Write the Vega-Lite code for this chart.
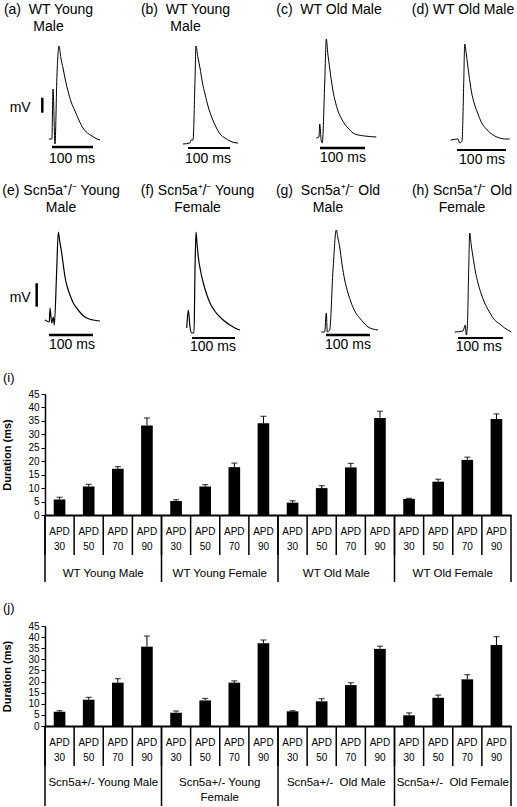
{
"$schema":"https://vega.github.io/schema/vega-lite/v6.json",
"padding":{"top":3,"left":0,"right":0,"bottom":0},"background":"white",
"columns":1,"align":"none","spacing":17,
"config":{"view":{"stroke":null},"font":"Liberation Sans",
 "title":{"font":"Liberation Sans","fontWeight":"normal","color":"black"},
 "text":{"font":"Liberation Sans","color":"black"},
 "axis":{"labelFont":"Liberation Sans","titleFont":"Liberation Sans"}},
"datasets":{
"traces":[
{"p":"a","t":4,"v":1},{"p":"a","t":11,"v":1},{"p":"a","t":13.7,"v":51},{"p":"a","t":18.3,"v":-4},{"p":"a","t":23,"v":66},{"p":"a","t":27.7,"v":94},{"p":"a","t":32,"v":82},{"p":"a","t":37,"v":72},{"p":"a","t":43,"v":59},{"p":"a","t":48.7,"v":49},{"p":"a","t":56,"v":38},{"p":"a","t":65,"v":29},{"p":"a","t":74,"v":20},{"p":"a","t":83.7,"v":12},{"p":"a","t":94,"v":7},{"p":"a","t":104.7,"v":4},{"p":"a","t":114,"v":1.5},{"p":"a","t":123.3,"v":0},
{"p":"b","t":9,"v":-4},{"p":"b","t":25,"v":-3},{"p":"b","t":27.7,"v":0},{"p":"b","t":32.3,"v":0},{"p":"b","t":37,"v":59},{"p":"b","t":39.3,"v":94},{"p":"b","t":44,"v":82},{"p":"b","t":48.7,"v":72},{"p":"b","t":54,"v":58},{"p":"b","t":60.3,"v":46},{"p":"b","t":68,"v":33},{"p":"b","t":76.7,"v":22},{"p":"b","t":86,"v":13},{"p":"b","t":95.3,"v":6},{"p":"b","t":107,"v":2},{"p":"b","t":118.7,"v":-1},{"p":"b","t":128,"v":-2.5},{"p":"b","t":137.3,"v":-3},
{"p":"c","t":12,"v":2},{"p":"c","t":18.3,"v":3},{"p":"c","t":20,"v":16},{"p":"c","t":23.7,"v":-1},{"p":"c","t":26,"v":-3},{"p":"c","t":31.6,"v":56},{"p":"c","t":35.4,"v":101},{"p":"c","t":39,"v":86},{"p":"c","t":43.3,"v":72},{"p":"c","t":47,"v":60},{"p":"c","t":51,"v":49},{"p":"c","t":56,"v":39},{"p":"c","t":62.7,"v":29},{"p":"c","t":70,"v":22},{"p":"c","t":78.3,"v":16},{"p":"c","t":88,"v":11},{"p":"c","t":97.7,"v":7},{"p":"c","t":110,"v":5},{"p":"c","t":125,"v":4},{"p":"c","t":152,"v":3},
{"p":"d","t":17.6,"v":0},{"p":"d","t":34.7,"v":1},{"p":"d","t":38.6,"v":-3},{"p":"d","t":44,"v":-1},{"p":"d","t":48,"v":56},{"p":"d","t":50.3,"v":96},{"p":"d","t":54,"v":86},{"p":"d","t":60,"v":66},{"p":"d","t":65.7,"v":49},{"p":"d","t":73,"v":36},{"p":"d","t":81.3,"v":26},{"p":"d","t":90,"v":17},{"p":"d","t":100.7,"v":11},{"p":"d","t":110,"v":7},{"p":"d","t":120.4,"v":4},{"p":"d","t":132,"v":2},{"p":"d","t":143.6,"v":1},{"p":"d","t":155.3,"v":1},
{"p":"e","t":-5,"v":0},{"p":"e","t":5,"v":-2},{"p":"e","t":6.7,"v":12},{"p":"e","t":10.6,"v":-3},{"p":"e","t":14.4,"v":3},{"p":"e","t":16.7,"v":-5},{"p":"e","t":22.3,"v":50},{"p":"e","t":26,"v":88},{"p":"e","t":30,"v":77},{"p":"e","t":34,"v":67},{"p":"e","t":38,"v":54},{"p":"e","t":41.7,"v":43},{"p":"e","t":47,"v":33},{"p":"e","t":53.3,"v":25},{"p":"e","t":61,"v":17},{"p":"e","t":69,"v":12},{"p":"e","t":78,"v":7},{"p":"e","t":88.3,"v":3},{"p":"e","t":98,"v":1},{"p":"e","t":107.7,"v":0},{"p":"e","t":123.3,"v":-1},
{"p":"f","t":17.6,"v":-8},{"p":"f","t":21.4,"v":10},{"p":"f","t":25.3,"v":-7},{"p":"f","t":29.3,"v":-13},{"p":"f","t":34.7,"v":-13},{"p":"f","t":37,"v":50},{"p":"f","t":39.3,"v":88},{"p":"f","t":42,"v":75},{"p":"f","t":44.7,"v":63},{"p":"f","t":50,"v":49},{"p":"f","t":56.4,"v":37},{"p":"f","t":64,"v":26},{"p":"f","t":72,"v":17},{"p":"f","t":83,"v":9},{"p":"f","t":95.3,"v":3},{"p":"f","t":107,"v":-1.5},{"p":"f","t":118.7,"v":-5},{"p":"f","t":130,"v":-8},{"p":"f","t":142,"v":-10},
{"p":"g","t":23.7,"v":-12},{"p":"g","t":31.6,"v":-12},{"p":"g","t":35.4,"v":7},{"p":"g","t":37.7,"v":-12},{"p":"g","t":43.3,"v":-10},{"p":"g","t":51,"v":50},{"p":"g","t":58.7,"v":90},{"p":"g","t":62.5,"v":82},{"p":"g","t":66.6,"v":73},{"p":"g","t":72,"v":56},{"p":"g","t":78.3,"v":40},{"p":"g","t":86,"v":27},{"p":"g","t":93.7,"v":17},{"p":"g","t":103,"v":8},{"p":"g","t":113.3,"v":2},{"p":"g","t":123,"v":-3},{"p":"g","t":132.7,"v":-7},{"p":"g","t":144,"v":-9},{"p":"g","t":156,"v":-10},
{"p":"h","t":27,"v":-12},{"p":"h","t":46.3,"v":-11},{"p":"h","t":51.7,"v":-5},{"p":"h","t":54,"v":-15},{"p":"h","t":56.4,"v":-7},{"p":"h","t":59.6,"v":50},{"p":"h","t":62,"v":87},{"p":"h","t":65.5,"v":75},{"p":"h","t":69.7,"v":63},{"p":"h","t":75,"v":49},{"p":"h","t":81.3,"v":37},{"p":"h","t":89,"v":26},{"p":"h","t":97,"v":17},{"p":"h","t":108,"v":8},{"p":"h","t":120.3,"v":0},{"p":"h","t":132,"v":-4},{"p":"h","t":143.6,"v":-8},{"p":"h","t":159,"v":-12}
],
"ann":[
{"p":"a","t":11.3,"v":-7,"t2":107,"v2":-7},{"p":"a","t":-11.3,"v":42.3,"t2":-11.3,"v2":27.3},
{"p":"b","t":20.7,"v":-8,"t2":118.7,"v2":-8},
{"p":"c","t":20.7,"v":-8,"t2":125.7,"v2":-8},
{"p":"d","t":32.3,"v":-10,"t2":146.7,"v2":-10},
{"p":"e","t":4.3,"v":-15,"t2":107,"v2":-15},{"p":"e","t":-24.4,"v":36.7,"t2":-24.4,"v2":13.3},
{"p":"f","t":30,"v":-18,"t2":130.3,"v2":-18},
{"p":"g","t":34.7,"v":-15,"t2":137.3,"v2":-15},
{"p":"h","t":34.7,"v":-18,"t2":139.6,"v2":-18}
],
"lab":[
{"p":"a","t":58,"v":-19,"s":"100 ms"},{"p":"a","t":-63,"v":32,"s":"mV"},
{"p":"b","t":67.3,"v":-19,"s":"100 ms"},
{"p":"c","t":74.3,"v":-18,"s":"100 ms"},
{"p":"d","t":90.7,"v":-20,"s":"100 ms"},
{"p":"e","t":58,"v":-25,"s":"100 ms"},{"p":"e","t":-63,"v":22,"s":"mV"},
{"p":"f","t":79,"v":-27,"s":"100 ms"},
{"p":"g","t":86,"v":-25,"s":"100 ms"},
{"p":"h","t":83,"v":-27,"s":"100 ms"}
],
"apd":[
{"fig":"i","g":"WT Young Male","apd":"APD 30","key":"WT Young Male APD 30","d":5.8,"hi":6.6},
{"fig":"i","g":"WT Young Male","apd":"APD 50","key":"WT Young Male APD 50","d":10.6,"hi":11.4},
{"fig":"i","g":"WT Young Male","apd":"APD 70","key":"WT Young Male APD 70","d":17.2,"hi":18.0},
{"fig":"i","g":"WT Young Male","apd":"APD 90","key":"WT Young Male APD 90","d":33.3,"hi":36.1},
{"fig":"i","g":"WT Young Female","apd":"APD 30","key":"WT Young Female APD 30","d":5.2,"hi":5.7},
{"fig":"i","g":"WT Young Female","apd":"APD 50","key":"WT Young Female APD 50","d":10.6,"hi":11.3},
{"fig":"i","g":"WT Young Female","apd":"APD 70","key":"WT Young Female APD 70","d":17.8,"hi":19.3},
{"fig":"i","g":"WT Young Female","apd":"APD 90","key":"WT Young Female APD 90","d":34.1,"hi":36.7},
{"fig":"i","g":"WT Old Male","apd":"APD 30","key":"WT Old Male APD 30","d":4.6,"hi":5.3},
{"fig":"i","g":"WT Old Male","apd":"APD 50","key":"WT Old Male APD 50","d":10.0,"hi":10.9},
{"fig":"i","g":"WT Old Male","apd":"APD 70","key":"WT Old Male APD 70","d":17.7,"hi":19.2},
{"fig":"i","g":"WT Old Male","apd":"APD 90","key":"WT Old Male APD 90","d":36.1,"hi":38.6},
{"fig":"i","g":"WT Old Female","apd":"APD 30","key":"WT Old Female APD 30","d":6.0,"hi":6.2},
{"fig":"i","g":"WT Old Female","apd":"APD 50","key":"WT Old Female APD 50","d":12.4,"hi":13.3},
{"fig":"i","g":"WT Old Female","apd":"APD 70","key":"WT Old Female APD 70","d":20.5,"hi":21.5},
{"fig":"i","g":"WT Old Female","apd":"APD 90","key":"WT Old Female APD 90","d":35.7,"hi":37.6},
{"fig":"j","g":"Scn5a+/- Young Male","apd":"APD 30","key":"j Young Male APD 30","d":6.4,"hi":6.9},
{"fig":"j","g":"Scn5a+/- Young Male","apd":"APD 50","key":"j Young Male APD 50","d":11.8,"hi":12.9},
{"fig":"j","g":"Scn5a+/- Young Male","apd":"APD 70","key":"j Young Male APD 70","d":19.5,"hi":21.3},
{"fig":"j","g":"Scn5a+/- Young Male","apd":"APD 90","key":"j Young Male APD 90","d":35.7,"hi":40.5},
{"fig":"j","g":"Scn5a+/- Young\nFemale","apd":"APD 30","key":"j Young Female APD 30","d":6.0,"hi":6.75},
{"fig":"j","g":"Scn5a+/- Young\nFemale","apd":"APD 50","key":"j Young Female APD 50","d":11.5,"hi":12.4},
{"fig":"j","g":"Scn5a+/- Young\nFemale","apd":"APD 70","key":"j Young Female APD 70","d":19.5,"hi":20.3},
{"fig":"j","g":"Scn5a+/- Young\nFemale","apd":"APD 90","key":"j Young Female APD 90","d":37.2,"hi":38.7},
{"fig":"j","g":"Scn5a+/-\u00a0 Old Male","apd":"APD 30","key":"j Old Male APD 30","d":6.6,"hi":6.9},
{"fig":"j","g":"Scn5a+/-\u00a0 Old Male","apd":"APD 50","key":"j Old Male APD 50","d":11.1,"hi":12.3},
{"fig":"j","g":"Scn5a+/-\u00a0 Old Male","apd":"APD 70","key":"j Old Male APD 70","d":18.4,"hi":19.5},
{"fig":"j","g":"Scn5a+/-\u00a0 Old Male","apd":"APD 90","key":"j Old Male APD 90","d":34.7,"hi":35.9},
{"fig":"j","g":"Scn5a+/-\u00a0 Old Female","apd":"APD 30","key":"j Old Female APD 30","d":4.8,"hi":5.9},
{"fig":"j","g":"Scn5a+/-\u00a0 Old Female","apd":"APD 50","key":"j Old Female APD 50","d":12.7,"hi":13.9},
{"fig":"j","g":"Scn5a+/-\u00a0 Old Female","apd":"APD 70","key":"j Old Female APD 70","d":21.0,"hi":23.1},
{"fig":"j","g":"Scn5a+/-\u00a0 Old Female","apd":"APD 90","key":"j Old Female APD 90","d":36.4,"hi":40.2}
]},
"concat":[
{"hconcat":[
 {"width":120,"height":129,"title":{"text":["(a)\u00a0 WT Young","\u00a0\u00a0\u00a0\u00a0\u00a0Male"],"dx":-11.5,"fontSize":14,"lineHeight":17,"offset":3},
  "encoding":{"x":{"field":"t","type":"quantitative","scale":{"domain":[-110,170],"nice":false,"zero":false},"axis":null},"y":{"field":"v","type":"quantitative","scale":{"domain":[-26,103],"nice":false,"zero":false},"axis":null}},
  "layer":[
   {"data":{"name":"traces"},"transform":[{"filter":"datum.p==='a'"}],"mark":{"type":"line","color":"black","strokeWidth":1,"interpolate":"monotone"},"encoding":{}},
   {"data":{"name":"ann"},"transform":[{"filter":"datum.p==='a'"}],"mark":{"type":"rule","color":"black","strokeWidth":2.5},"encoding":{"x2":{"field":"t2"},"y2":{"field":"v2"}}},
   {"data":{"name":"lab"},"transform":[{"filter":"datum.p==='a'"}],"mark":{"type":"text","fontSize":14},"encoding":{"text":{"field":"s"}}}]},
 {"width":120,"height":129,"title":{"text":["(b)\u00a0 WT Young","\u00a0\u00a0\u00a0\u00a0\u00a0\u00a0Male"],"dx":-6.5,"fontSize":14,"lineHeight":17,"offset":3},
  "encoding":{"x":{"field":"t","type":"quantitative","scale":{"domain":[-110,170],"nice":false,"zero":false},"axis":null},"y":{"field":"v","type":"quantitative","scale":{"domain":[-26,103],"nice":false,"zero":false},"axis":null}},
  "layer":[
   {"data":{"name":"traces"},"transform":[{"filter":"datum.p==='b'"}],"mark":{"type":"line","color":"black","strokeWidth":1,"interpolate":"monotone"},"encoding":{}},
   {"data":{"name":"ann"},"transform":[{"filter":"datum.p==='b'"}],"mark":{"type":"rule","color":"black","strokeWidth":2},"encoding":{"x2":{"field":"t2"},"y2":{"field":"v2"}}},
   {"data":{"name":"lab"},"transform":[{"filter":"datum.p==='b'"}],"mark":{"type":"text","fontSize":14},"encoding":{"text":{"field":"s"}}}]},
 {"width":120,"height":129,"title":{"text":["(c)\u00a0 WT Old Male","\u00a0"],"dx":5,"fontSize":14,"lineHeight":17,"offset":3},
  "encoding":{"x":{"field":"t","type":"quantitative","scale":{"domain":[-110,170],"nice":false,"zero":false},"axis":null},"y":{"field":"v","type":"quantitative","scale":{"domain":[-26,103],"nice":false,"zero":false},"axis":null}},
  "layer":[
   {"data":{"name":"traces"},"transform":[{"filter":"datum.p==='c'"}],"mark":{"type":"line","color":"black","strokeWidth":1,"interpolate":"monotone"},"encoding":{}},
   {"data":{"name":"ann"},"transform":[{"filter":"datum.p==='c'"}],"mark":{"type":"rule","color":"black","strokeWidth":2.5},"encoding":{"x2":{"field":"t2"},"y2":{"field":"v2"}}},
   {"data":{"name":"lab"},"transform":[{"filter":"datum.p==='c'"}],"mark":{"type":"text","fontSize":14},"encoding":{"text":{"field":"s"}}}]},
 {"width":120,"height":129,"title":{"text":["(d) WT Old Male","\u00a0"],"dx":7,"fontSize":14,"lineHeight":17,"offset":3},
  "encoding":{"x":{"field":"t","type":"quantitative","scale":{"domain":[-110,170],"nice":false,"zero":false},"axis":null},"y":{"field":"v","type":"quantitative","scale":{"domain":[-26,103],"nice":false,"zero":false},"axis":null}},
  "layer":[
   {"data":{"name":"traces"},"transform":[{"filter":"datum.p==='d'"}],"mark":{"type":"line","color":"black","strokeWidth":1,"interpolate":"monotone"},"encoding":{}},
   {"data":{"name":"ann"},"transform":[{"filter":"datum.p==='d'"}],"mark":{"type":"rule","color":"black","strokeWidth":2},"encoding":{"x2":{"field":"t2"},"y2":{"field":"v2"}}},
   {"data":{"name":"lab"},"transform":[{"filter":"datum.p==='d'"}],"mark":{"type":"text","fontSize":14},"encoding":{"text":{"field":"s"}}}]}
 ],"spacing":12,"bounds":"flush"},
{"hconcat":[
 {"width":120,"height":140,"title":{"text":["(e) Scn5a\u207a/\u207b Young","Male"],"dx":1,"fontSize":14,"lineHeight":17,"offset":0},
  "encoding":{"x":{"field":"t","type":"quantitative","scale":{"domain":[-110,170],"nice":false,"zero":false},"axis":null},"y":{"field":"v","type":"quantitative","scale":{"domain":[-35,105],"nice":false,"zero":false},"axis":null}},
  "layer":[
   {"data":{"name":"traces"},"transform":[{"filter":"datum.p==='e'"}],"mark":{"type":"line","color":"black","strokeWidth":1.2,"interpolate":"monotone"},"encoding":{}},
   {"data":{"name":"ann"},"transform":[{"filter":"datum.p==='e'"}],"mark":{"type":"rule","color":"black","strokeWidth":2.5},"encoding":{"x2":{"field":"t2"},"y2":{"field":"v2"}}},
   {"data":{"name":"lab"},"transform":[{"filter":"datum.p==='e'"}],"mark":{"type":"text","fontSize":14},"encoding":{"text":{"field":"s"}}}]},
 {"width":120,"height":140,"title":{"text":["(f) Scn5a\u207a/\u207b Young","Female"],"dx":5.5,"fontSize":14,"lineHeight":17,"offset":0},
  "encoding":{"x":{"field":"t","type":"quantitative","scale":{"domain":[-110,170],"nice":false,"zero":false},"axis":null},"y":{"field":"v","type":"quantitative","scale":{"domain":[-35,105],"nice":false,"zero":false},"axis":null}},
  "layer":[
   {"data":{"name":"traces"},"transform":[{"filter":"datum.p==='f'"}],"mark":{"type":"line","color":"black","strokeWidth":1.2,"interpolate":"monotone"},"encoding":{}},
   {"data":{"name":"ann"},"transform":[{"filter":"datum.p==='f'"}],"mark":{"type":"rule","color":"black","strokeWidth":2},"encoding":{"x2":{"field":"t2"},"y2":{"field":"v2"}}},
   {"data":{"name":"lab"},"transform":[{"filter":"datum.p==='f'"}],"mark":{"type":"text","fontSize":14},"encoding":{"text":{"field":"s"}}}]},
 {"width":120,"height":140,"title":{"text":["(g)\u00a0 Scn5a\u207a/\u207b Old","\u00a0\u00a0\u00a0\u00a0\u00a0\u00a0Male"],"dx":4,"fontSize":14,"lineHeight":17,"offset":0},
  "encoding":{"x":{"field":"t","type":"quantitative","scale":{"domain":[-110,170],"nice":false,"zero":false},"axis":null},"y":{"field":"v","type":"quantitative","scale":{"domain":[-35,105],"nice":false,"zero":false},"axis":null}},
  "layer":[
   {"data":{"name":"traces"},"transform":[{"filter":"datum.p==='g'"}],"mark":{"type":"line","color":"black","strokeWidth":1,"interpolate":"monotone"},"encoding":{}},
   {"data":{"name":"ann"},"transform":[{"filter":"datum.p==='g'"}],"mark":{"type":"rule","color":"black","strokeWidth":2.5},"encoding":{"x2":{"field":"t2"},"y2":{"field":"v2"}}},
   {"data":{"name":"lab"},"transform":[{"filter":"datum.p==='g'"}],"mark":{"type":"text","fontSize":14},"encoding":{"text":{"field":"s"}}}]},
 {"width":120,"height":140,"title":{"text":["(h) Scn5a\u207a/\u207b Old","\u00a0\u00a0\u00a0\u00a0\u00a0\u00a0\u00a0\u00a0Female"],"dx":6,"fontSize":14,"lineHeight":17,"offset":0},
  "encoding":{"x":{"field":"t","type":"quantitative","scale":{"domain":[-110,170],"nice":false,"zero":false},"axis":null},"y":{"field":"v","type":"quantitative","scale":{"domain":[-35,105],"nice":false,"zero":false},"axis":null}},
  "layer":[
   {"data":{"name":"traces"},"transform":[{"filter":"datum.p==='h'"}],"mark":{"type":"line","color":"black","strokeWidth":1,"interpolate":"monotone"},"encoding":{}},
   {"data":{"name":"ann"},"transform":[{"filter":"datum.p==='h'"}],"mark":{"type":"rule","color":"black","strokeWidth":2},"encoding":{"x2":{"field":"t2"},"y2":{"field":"v2"}}},
   {"data":{"name":"lab"},"transform":[{"filter":"datum.p==='h'"}],"mark":{"type":"text","fontSize":14},"encoding":{"text":{"field":"s"}}}]}
 ],"spacing":12,"bounds":"flush"},
{"spacing":0,"hconcat":[
 {"width":1,"height":1,"data":{"values":[]},"mark":"point"},
 {"title":{"text":"(i)","anchor":"start","frame":"bounds","fontSize":13,"offset":4,"dx":2},
 "spacing":0,"bounds":"flush",
 "vconcat":[
  {"width":466,"height":121,"data":{"name":"apd"},"transform":[{"filter":"datum.fig==='i'"}],
   "encoding":{"x":{"field":"key","type":"nominal","sort":null,"scale":{"paddingInner":0.6,"paddingOuter":0.3},"axis":{"labels":false,"ticks":false,"title":null,"domainColor":"black","domainWidth":2}}},
   "layer":[
    {"mark":{"type":"bar","color":"black"},"encoding":{"y":{"field":"d","type":"quantitative","scale":{"domain":[0,45],"nice":false},"axis":{"title":"Duration (ms)","titleFontWeight":"bold","titleFontSize":11,"titleColor":"black","values":[0,5,10,15,20,25,30,35,40,45],"labelFontSize":10,"labelColor":"black","tickSize":4,"tickColor":"black","domainColor":"black","domainWidth":1.5,"grid":false,"labelOverlap":false,"minExtent":26,"maxExtent":26,"titlePadding":7,"labelPadding":2,"labelFlush":false}}}},
    {"mark":{"type":"rule","color":"black","strokeWidth":1},"encoding":{"y":{"field":"d","type":"quantitative","scale":{"domain":[0,45],"nice":false},"axis":{"title":"Duration (ms)","titleFontWeight":"bold","titleFontSize":11,"titleColor":"black","values":[0,5,10,15,20,25,30,35,40,45],"labelFontSize":10,"labelColor":"black","tickSize":4,"tickColor":"black","domainColor":"black","domainWidth":1.5,"grid":false,"labelOverlap":false,"minExtent":26,"maxExtent":26,"titlePadding":7,"labelPadding":2,"labelFlush":false}},"y2":{"field":"hi"}}},
    {"mark":{"type":"tick","color":"black","thickness":1.2,"size":6},"encoding":{"y":{"field":"hi","type":"quantitative","scale":{"domain":[0,45],"nice":false},"axis":{"title":"Duration (ms)","titleFontWeight":"bold","titleFontSize":11,"titleColor":"black","values":[0,5,10,15,20,25,30,35,40,45],"labelFontSize":10,"labelColor":"black","tickSize":4,"tickColor":"black","domainColor":"black","domainWidth":1.5,"grid":false,"labelOverlap":false,"minExtent":26,"maxExtent":26,"titlePadding":7,"labelPadding":2,"labelFlush":false}}}}]},
  {"width":466,"height":70,"data":{"name":"apd"},"transform":[{"filter":"datum.fig==='i'"}],
   "layer":[
    {"mark":{"type":"rule","color":"black","strokeWidth":1.5},"encoding":{"x":{"field":"key","type":"nominal","sort":null,"bandPosition":0,"scale":{"paddingInner":0,"paddingOuter":0},"axis":null},"y":{"datum":0,"type":"quantitative","scale":{"domain":[0,70],"reverse":true,"nice":false},"axis":null},"y2":{"datum":40}}},
    {"transform":[{"filter":"datum.apd==='APD 30'"}],"mark":{"type":"rule","color":"black","strokeWidth":1.5},"encoding":{"x":{"field":"key","type":"nominal","sort":null,"bandPosition":0,"axis":null},"y":{"datum":0,"type":"quantitative","axis":null},"y2":{"datum":67}}},
    {"transform":[{"filter":"datum.key==='WT Old Female APD 90'"}],"mark":{"type":"rule","color":"black","strokeWidth":1.5},"encoding":{"x":{"field":"key","type":"nominal","sort":null,"bandPosition":1,"axis":null},"y":{"datum":0,"type":"quantitative","axis":null},"y2":{"datum":67}}},
    {"mark":{"type":"text","fontSize":10,"baseline":"top","lineBreak":" ","lineHeight":15},"encoding":{"x":{"field":"key","type":"nominal","sort":null,"axis":null},"y":{"datum":12,"type":"quantitative","axis":null},"text":{"field":"apd"}}},
    {"transform":[{"filter":"datum.apd==='APD 50'"}],"mark":{"type":"text","fontSize":11.5,"baseline":"top","lineBreak":"\n","lineHeight":15},"encoding":{"x":{"field":"key","type":"nominal","sort":null,"bandPosition":1,"axis":null},"y":{"datum":52.5,"type":"quantitative","axis":null},"text":{"field":"g"}}}]}
 ]}]},
{"spacing":0,"hconcat":[
 {"width":1,"height":1,"data":{"values":[]},"mark":"point"},
 {"title":{"text":"(j)","anchor":"start","frame":"bounds","fontSize":13,"offset":6,"dx":2},
 "spacing":0,"bounds":"flush",
 "vconcat":[
  {"width":466,"height":100,"data":{"name":"apd"},"transform":[{"filter":"datum.fig==='j'"}],
   "encoding":{"x":{"field":"key","type":"nominal","sort":null,"scale":{"paddingInner":0.6,"paddingOuter":0.3},"axis":{"labels":false,"ticks":false,"title":null,"domainColor":"black","domainWidth":2}}},
   "layer":[
    {"mark":{"type":"bar","color":"black"},"encoding":{"y":{"field":"d","type":"quantitative","scale":{"domain":[0,45],"nice":false},"axis":{"title":"Duration (ms)","titleFontWeight":"bold","titleFontSize":11,"titleColor":"black","values":[0,5,10,15,20,25,30,35,40,45],"labelFontSize":10,"labelColor":"black","tickSize":4,"tickColor":"black","domainColor":"black","domainWidth":1.5,"grid":false,"labelOverlap":false,"minExtent":26,"maxExtent":26,"titlePadding":7,"labelPadding":2,"labelFlush":false}}}},
    {"mark":{"type":"rule","color":"black","strokeWidth":1},"encoding":{"y":{"field":"d","type":"quantitative","scale":{"domain":[0,45],"nice":false},"axis":{"title":"Duration (ms)","titleFontWeight":"bold","titleFontSize":11,"titleColor":"black","values":[0,5,10,15,20,25,30,35,40,45],"labelFontSize":10,"labelColor":"black","tickSize":4,"tickColor":"black","domainColor":"black","domainWidth":1.5,"grid":false,"labelOverlap":false,"minExtent":26,"maxExtent":26,"titlePadding":7,"labelPadding":2,"labelFlush":false}},"y2":{"field":"hi"}}},
    {"mark":{"type":"tick","color":"black","thickness":1.2,"size":6},"encoding":{"y":{"field":"hi","type":"quantitative","scale":{"domain":[0,45],"nice":false},"axis":{"title":"Duration (ms)","titleFontWeight":"bold","titleFontSize":11,"titleColor":"black","values":[0,5,10,15,20,25,30,35,40,45],"labelFontSize":10,"labelColor":"black","tickSize":4,"tickColor":"black","domainColor":"black","domainWidth":1.5,"grid":false,"labelOverlap":false,"minExtent":26,"maxExtent":26,"titlePadding":7,"labelPadding":2,"labelFlush":false}}}}]},
  {"width":466,"height":80,"data":{"name":"apd"},"transform":[{"filter":"datum.fig==='j'"}],
   "layer":[
    {"mark":{"type":"rule","color":"black","strokeWidth":1.5},"encoding":{"x":{"field":"key","type":"nominal","sort":null,"bandPosition":0,"scale":{"paddingInner":0,"paddingOuter":0},"axis":null},"y":{"datum":0,"type":"quantitative","scale":{"domain":[0,80],"reverse":true,"nice":false},"axis":null},"y2":{"datum":40}}},
    {"transform":[{"filter":"datum.apd==='APD 30'"}],"mark":{"type":"rule","color":"black","strokeWidth":1.5},"encoding":{"x":{"field":"key","type":"nominal","sort":null,"bandPosition":0,"axis":null},"y":{"datum":0,"type":"quantitative","axis":null},"y2":{"datum":80}}},
    {"transform":[{"filter":"datum.key==='j Old Female APD 90'"}],"mark":{"type":"rule","color":"black","strokeWidth":1.5},"encoding":{"x":{"field":"key","type":"nominal","sort":null,"bandPosition":1,"axis":null},"y":{"datum":0,"type":"quantitative","axis":null},"y2":{"datum":80}}},
    {"mark":{"type":"text","fontSize":10,"baseline":"top","lineBreak":" ","lineHeight":15},"encoding":{"x":{"field":"key","type":"nominal","sort":null,"axis":null},"y":{"datum":11.5,"type":"quantitative","axis":null},"text":{"field":"apd"}}},
    {"transform":[{"filter":"datum.apd==='APD 50'"}],"mark":{"type":"text","fontSize":11.5,"baseline":"top","lineBreak":"\n","lineHeight":15},"encoding":{"x":{"field":"key","type":"nominal","sort":null,"bandPosition":1,"axis":null},"y":{"datum":51,"type":"quantitative","axis":null},"text":{"field":"g"}}}]}
 ]}]}
]}
